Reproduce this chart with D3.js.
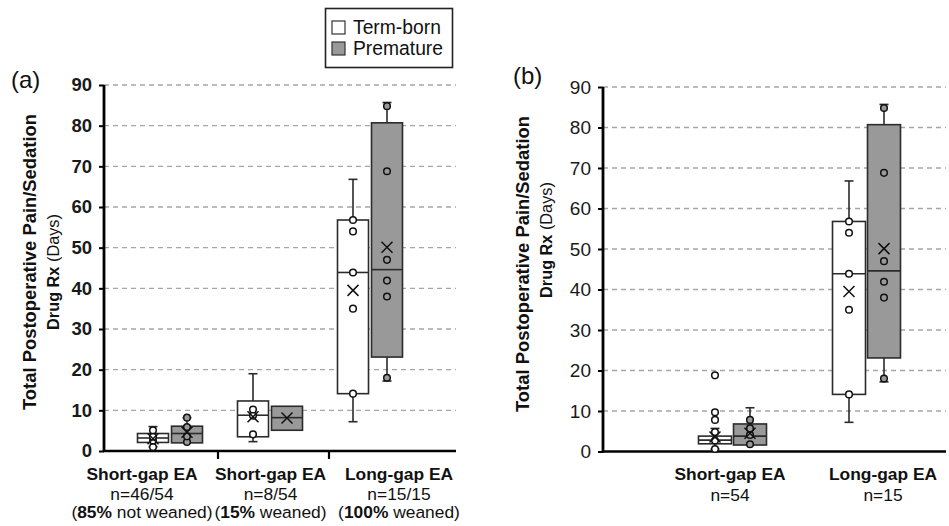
<!DOCTYPE html>
<html>
<head>
<meta charset="utf-8">
<script src="https://cdn.jsdelivr.net/npm/d3@7"></script>
<style>
  body { margin: 0; background: #fff; }
  svg { display: block; font-family: Arial, "Liberation Sans", sans-serif; }
</style>
</head>
<body>
<svg id="chart" width="949" height="526"></svg>
<script>
// ---- data ----
const series = ["Term-born", "Premature"];
const seriesFill = ["#ffffff", "#999999"];
const yTicks = [0, 10, 20, 30, 40, 50, 60, 70, 80, 90];

// Panel (a): short-gap split by weaning status, plus long-gap
const catsA = ["sg-not-weaned", "sg-weaned", "lg-weaned"];
const catTitlesA = ["Short-gap EA", "Short-gap EA", "Long-gap EA"];
const catCountsA = ["n=46/54", "n=8/54", "n=15/15"];
const catPctA = ["85%", "15%", "100%"];
const catPctTextA = [" not weaned)", " weaned)", " weaned)"];

const termA = [
  { min: 1.0, q1: 2.1, median: 3.2, q3: 4.3, max: 6.0, mean: 3.0, points: [1.0, 2.6, 3.5, 5.1] },
  { min: 2.3, q1: 3.5, median: 8.8, q3: 12.3, max: 19.0, mean: 8.4, points: [4.1, 8.7, 10.2] },
  { min: 7.2, q1: 14.1, median: 43.9, q3: 56.8, max: 66.8, mean: 39.5, points: [14.1, 35.0, 43.9, 54.0, 56.8] }
];
const prematureA = [
  { min: 2.0, q1: 2.0, median: 4.3, q3: 6.1, max: 8.2, mean: 4.6, points: [2.2, 3.6, 5.9, 8.2] },
  { min: 5.1, q1: 5.1, median: 8.2, q3: 11.0, max: 11.0, mean: 8.1, points: [] },
  { min: 17.2, q1: 23.1, median: 44.6, q3: 80.7, max: 85.7, mean: 50.1, points: [18.0, 38.0, 41.9, 47.0, 68.8, 84.8] }
];

// Panel (b): all short-gap vs long-gap
const catsB = ["sg-all", "lg-all"];
const catTitlesB = ["Short-gap EA", "Long-gap EA"];
const catCountsB = ["n=54", "n=15"];

const termB = [
  { min: 0.6, q1: 1.9, median: 2.8, q3: 3.8, max: 5.7, mean: 3.6, points: [0.6, 2.7, 4.8, 7.8, 9.7, 18.8] },
  { min: 7.2, q1: 14.1, median: 43.9, q3: 56.8, max: 66.8, mean: 39.5, points: [14.1, 35.0, 43.9, 54.0, 56.8] }
];
const prematureB = [
  { min: 1.6, q1: 1.6, median: 3.8, q3: 6.8, max: 10.8, mean: 4.5, points: [1.8, 4.1, 5.7, 7.8] },
  { min: 17.2, q1: 23.1, median: 44.6, q3: 80.7, max: 85.7, mean: 50.1, points: [18.0, 38.0, 41.9, 47.0, 68.8, 84.8] }
];

// ---- drawing ----
const svg = d3.select("#chart");
const INK = "#2b2b2b";

function drawPanel(cfg) {
  const g = svg.append("g");
  const y = d3.scaleLinear().domain([0, 90]).range([cfg.y0, cfg.y1]);
  const x = d3.scaleBand().domain(cfg.cats).range(cfg.band).padding(0);
  const sub = d3.scaleBand().domain(series)
    .range([x.bandwidth() / 2 - 2 * cfg.offset, x.bandwidth() / 2 + 2 * cfg.offset]);

  // dashed gridlines
  g.append("g").selectAll("line").data(yTicks.filter(t => t > 0)).join("line")
    .attr("x1", cfg.x0).attr("x2", cfg.x1)
    .attr("y1", d => y(d)).attr("y2", d => y(d))
    .attr("stroke", "#a6a6a6").attr("stroke-width", 1.4)
    .attr("stroke-dasharray", "5,4");

  // y axis
  const yAxis = d3.axisLeft(y).tickValues(yTicks).tickSize(5).tickPadding(7).tickFormat(d3.format("d"));
  const ya = g.append("g").attr("transform", `translate(${cfg.x0},0)`).call(yAxis);
  ya.select(".domain").remove();
  ya.selectAll(".tick line").attr("stroke", "#000").attr("stroke-width", 2);
  ya.selectAll(".tick text")
    .attr("fill", "#1a1a1a")
    .style("font-size", cfg.tickSize + "px")
    .style("font-weight", cfg.tickBold ? "bold" : "normal")
    .style("font-family", "Arial, 'Liberation Sans', sans-serif");
  g.append("line").attr("x1", cfg.x0).attr("x2", cfg.x0)
    .attr("y1", y(0) + 1).attr("y2", y(90))
    .attr("stroke", "#000").attr("stroke-width", 2.8);

  // x axis line + category ticks
  g.append("line").attr("x1", cfg.x0 - 1).attr("x2", cfg.x1)
    .attr("y1", y(0)).attr("y2", y(0))
    .attr("stroke", "#000").attr("stroke-width", 2.6);
  g.append("g").selectAll("line").data(cfg.xTicks).join("line")
    .attr("x1", d => d).attr("x2", d => d)
    .attr("y1", y(0)).attr("y2", y(0) + 8)
    .attr("stroke", "#000").attr("stroke-width", 2.2);

  // boxes
  cfg.cats.forEach((cat, ci) => {
    [cfg.term[ci], cfg.prem[ci]].forEach((s, si) => {
      const cx = x(cat) + sub(series[si]) + sub.bandwidth() / 2;
      const w = cfg.boxW;
      const fill = seriesFill[si];
      const bg = g.append("g");
      const cap = 4.5;
      // whiskers
      if (s.max > s.q3) {
        bg.append("line").attr("x1", cx).attr("x2", cx).attr("y1", y(s.q3)).attr("y2", y(s.max))
          .attr("stroke", INK).attr("stroke-width", 1.6);
        bg.append("line").attr("x1", cx - cap).attr("x2", cx + cap).attr("y1", y(s.max)).attr("y2", y(s.max))
          .attr("stroke", INK).attr("stroke-width", 1.6);
      }
      if (s.min < s.q1) {
        bg.append("line").attr("x1", cx).attr("x2", cx).attr("y1", y(s.q1)).attr("y2", y(s.min))
          .attr("stroke", INK).attr("stroke-width", 1.6);
        bg.append("line").attr("x1", cx - cap).attr("x2", cx + cap).attr("y1", y(s.min)).attr("y2", y(s.min))
          .attr("stroke", INK).attr("stroke-width", 1.6);
      }
      // box
      bg.append("rect").attr("x", cx - w / 2).attr("width", w)
        .attr("y", y(s.q3)).attr("height", y(s.q1) - y(s.q3))
        .attr("fill", fill).attr("stroke", INK).attr("stroke-width", 1.6);
      // median
      bg.append("line").attr("x1", cx - w / 2).attr("x2", cx + w / 2)
        .attr("y1", y(s.median)).attr("y2", y(s.median))
        .attr("stroke", INK).attr("stroke-width", 1.6);
      // individual points
      bg.selectAll("circle").data(s.points).join("circle")
        .attr("cx", cx).attr("cy", d => y(d)).attr("r", 3.3)
        .attr("fill", fill).attr("stroke", "#111").attr("stroke-width", 1.5);
      // mean marker
      const m = 5.5, my = y(s.mean);
      bg.append("path")
        .attr("d", `M${cx - m},${my - m}L${cx + m},${my + m}M${cx - m},${my + m}L${cx + m},${my - m}`)
        .attr("stroke", "#111").attr("stroke-width", 1.5).attr("fill", "none");
    });
  });

  // category labels
  const lx = d3.scalePoint().domain(cfg.cats).range(cfg.labelRange);
  const lab = g.append("g").attr("text-anchor", "middle").attr("fill", "#111").style("font-size", "17.4px");
  cfg.cats.forEach((cat, ci) => {
    lab.append("text").attr("x", lx(cat)).attr("y", cfg.labelY[0])
      .style("font-weight", "bold").text(cfg.titles[ci]);
    lab.append("text").attr("x", lx(cat)).attr("y", cfg.labelY[1]).text(cfg.counts[ci]);
    if (cfg.pct) {
      const t = lab.append("text").attr("x", lx(cat)).attr("y", cfg.labelY[2]);
      t.append("tspan").text("(");
      t.append("tspan").style("font-weight", "bold").text(cfg.pct[ci]);
      t.append("tspan").text(cfg.pctText[ci]);
    }
  });

  // y axis title
  const tt = g.append("g").attr("transform", `translate(${cfg.titleX},${cfg.titleY}) rotate(-90)`)
    .attr("text-anchor", "middle").attr("fill", "#111");
  tt.append("text").attr("y", 0).style("font-size", "18.4px")
    .style("font-weight", "bold").text("Total Postoperative Pain/Sedation");
  const t2 = tt.append("text").attr("x", cfg.title2Shift).attr("y", 23).style("font-size", "16.3px");
  t2.append("tspan").style("font-weight", "bold").text("Drug Rx");
  t2.append("tspan").text(" (Days)");

  // panel letter
  g.append("text").attr("x", cfg.letterX).attr("y", cfg.letterY)
    .attr("fill", "#111").style("font-size", "24px").text(cfg.letter);
}

drawPanel({
  cats: catsA, titles: catTitlesA, counts: catCountsA, pct: catPctA, pctText: catPctTextA,
  term: termA, prem: prematureA,
  x0: 104, x1: 456, y0: 451, y1: 85,
  band: [120, 420], offset: 17, boxW: 31,
  xTicks: [218, 329],
  labelRange: [142, 399], labelY: [480, 500, 518],
  tickSize: 18.5, tickBold: true,
  titleX: 36, titleY: 262, title2Shift: -10,
  letter: "(a)", letterX: 11, letterY: 88
});

drawPanel({
  cats: catsB, titles: catTitlesB, counts: catCountsB, pct: null,
  term: termB, prem: prematureB,
  x0: 603, x1: 946, y0: 451.5, y1: 87,
  band: [665.5, 933.5], offset: 17.5, boxW: 33,
  xTicks: [],
  labelRange: [730, 883], labelY: [480, 500.5],
  tickSize: 19, tickBold: false,
  titleX: 529, titleY: 264, title2Shift: 24,
  letter: "(b)", letterX: 513, letterY: 84
});

// legend
const legend = svg.append("g");
legend.append("rect").attr("x", 325.5).attr("y", 8.5).attr("width", 127).attr("height", 59)
  .attr("fill", "#fff").attr("stroke", "#222").attr("stroke-width", 1.6);
series.forEach((s, i) => {
  legend.append("rect").attr("x", 332).attr("y", 21 + i * 21).attr("width", 13).attr("height", 13)
    .attr("fill", seriesFill[i]).attr("stroke", "#333").attr("stroke-width", 1.2);
  legend.append("text").attr("x", 353).attr("y", 33.5 + i * 21)
    .attr("fill", "#111").style("font-size", "19.3px").text(s);
});
</script>
</body>
</html>
